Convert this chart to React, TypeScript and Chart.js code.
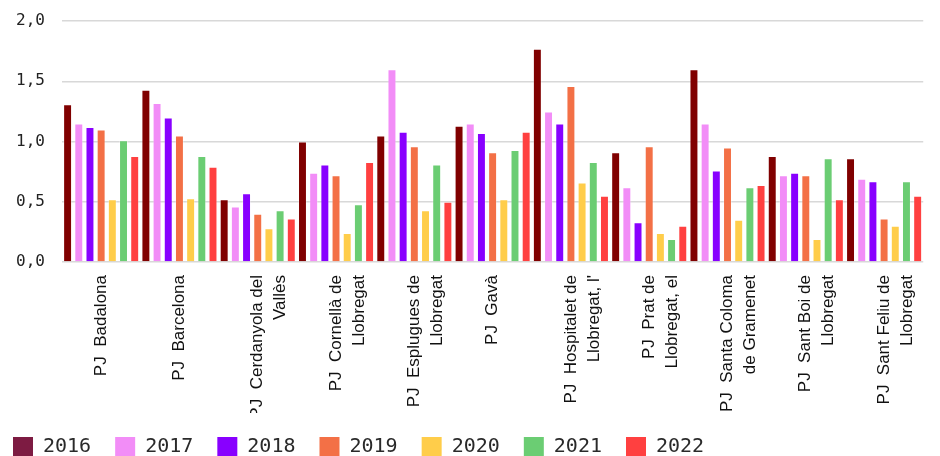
import React, { useEffect, useRef } from "react";
import { Chart, registerables } from "chart.js";

Chart.register(...registerables);

const categories: string[][] = [
  ["PJ  Badalona"],
  ["PJ  Barcelona"],
  ["PJ  Cerdanyola del", "Vallès"],
  ["PJ  Cornellà de", "Llobregat"],
  ["PJ  Esplugues de", "Llobregat"],
  ["PJ  Gavà"],
  ["PJ  Hospitalet de", "Llobregat, l'"],
  ["PJ  Prat de", "Llobregat, el"],
  ["PJ  Santa Coloma", "de Gramenet"],
  ["PJ  Sant Boi de", "Llobregat"],
  ["PJ  Sant Feliu de", "Llobregat"],
];

const years = ["2016", "2017", "2018", "2019", "2020", "2021", "2022"];

const v2016 = [1.31, 1.43, 0.52, 1.0, 1.05, 1.13, 1.77, 0.91, 1.6, 0.88, 0.86];
const v2017 = [1.15, 1.32, 0.46, 0.74, 1.6, 1.15, 1.25, 0.62, 1.15, 0.72, 0.69];
const v2018 = [1.12, 1.2, 0.57, 0.81, 1.08, 1.07, 1.15, 0.33, 0.76, 0.74, 0.67];
const v2019 = [1.1, 1.05, 0.4, 0.72, 0.96, 0.91, 1.46, 0.96, 0.95, 0.72, 0.36];
const v2020 = [0.52, 0.53, 0.28, 0.24, 0.43, 0.52, 0.66, 0.24, 0.35, 0.19, 0.3];
const v2021 = [1.01, 0.88, 0.43, 0.48, 0.81, 0.93, 0.83, 0.19, 0.62, 0.86, 0.67];
const v2022 = [0.88, 0.79, 0.36, 0.83, 0.5, 1.08, 0.55, 0.3, 0.64, 0.52, 0.55];

const seriesValues = [v2016, v2017, v2018, v2019, v2020, v2021, v2022];
const barColors = ["#800000", "#f28df7", "#8800ff", "#f37046", "#ffcd4a", "#6bcd73", "#ff4040"];
const legendColors = ["#7d1b42", "#f28df7", "#8800ff", "#f37046", "#ffcd4a", "#6bcd73", "#ff4040"];

const yTicks = [0, 0.5, 1, 1.5, 2];

export default function App() {
  const ref = useRef<HTMLCanvasElement | null>(null);

  useEffect(() => {
    if (!ref.current) return;
    const chart = new Chart(ref.current, {
      type: "bar",
      data: {
        labels: categories,
        datasets: years.map((y, i) => ({
          label: y,
          data: seriesValues[i],
          backgroundColor: barColors[i],
          borderColor: "rgba(255,255,255,0.3)",
          borderWidth: 1,
          categoryPercentage: 1,
          barPercentage: 0.8,
        })),
      },
      options: {
        animation: false,
        responsive: false,
        devicePixelRatio: 1,
        layout: { padding: { top: 21, left: 0, right: 0, bottom: 0 } },
        plugins: {
          tooltip: { enabled: false },
          legend: {
            position: "bottom",
            align: "start",
            labels: {
              boxWidth: 20,
              boxHeight: 20,
              padding: 24,
              color: "#2a2a2a",
              font: { family: "DejaVu Sans Mono", size: 20 },
              generateLabels: () =>
                years.map((y, i) => ({
                  text: y,
                  fillStyle: legendColors[i],
                  strokeStyle: legendColors[i],
                  lineWidth: 0,
                  fontColor: "#2a2a2a",
                  hidden: false,
                  datasetIndex: i,
                })),
            },
          },
        },
        scales: {
          x: {
            grid: { display: false, drawTicks: false },
            border: { display: false },
            ticks: {
              autoSkip: false,
              maxRotation: 90,
              minRotation: 90,
              padding: 13,
              color: "#111",
              font: { family: "Liberation Sans", size: 17, lineHeight: 1.35 },
            },
            afterFit: (s: any) => {
              s.height = 151;
            },
          },
          y: {
            min: 0,
            max: 2,
            afterBuildTicks: (s: any) => {
              s.ticks = yTicks.map((v) => ({ value: v }));
            },
            grid: { color: "#d8d8d8", lineWidth: 1.5, drawTicks: false },
            border: { display: false },
            ticks: {
              padding: 17,
              color: "#222",
              font: { family: "DejaVu Sans Mono", size: 16 },
              callback: (v: any) => Number(v).toFixed(1).replace(".", ","),
            },
            afterFit: (s: any) => {
              s.width = 73;
              s.paddingTop = 0;
              s.paddingBottom = 0;
            },
          },
        },
      },
    });
    return () => chart.destroy();
  }, []);

  return (
    <div
      style={{
        position: "fixed",
        left: 0,
        top: 0,
        width: 940,
        height: 456,
        overflow: "hidden",
        background: "#fff",
      }}
    >
      <canvas
        ref={ref}
        width={954}
        height={467}
        style={{ position: "absolute", left: -11, top: 0, width: 954, height: 467 }}
      />
    </div>
  );
}
